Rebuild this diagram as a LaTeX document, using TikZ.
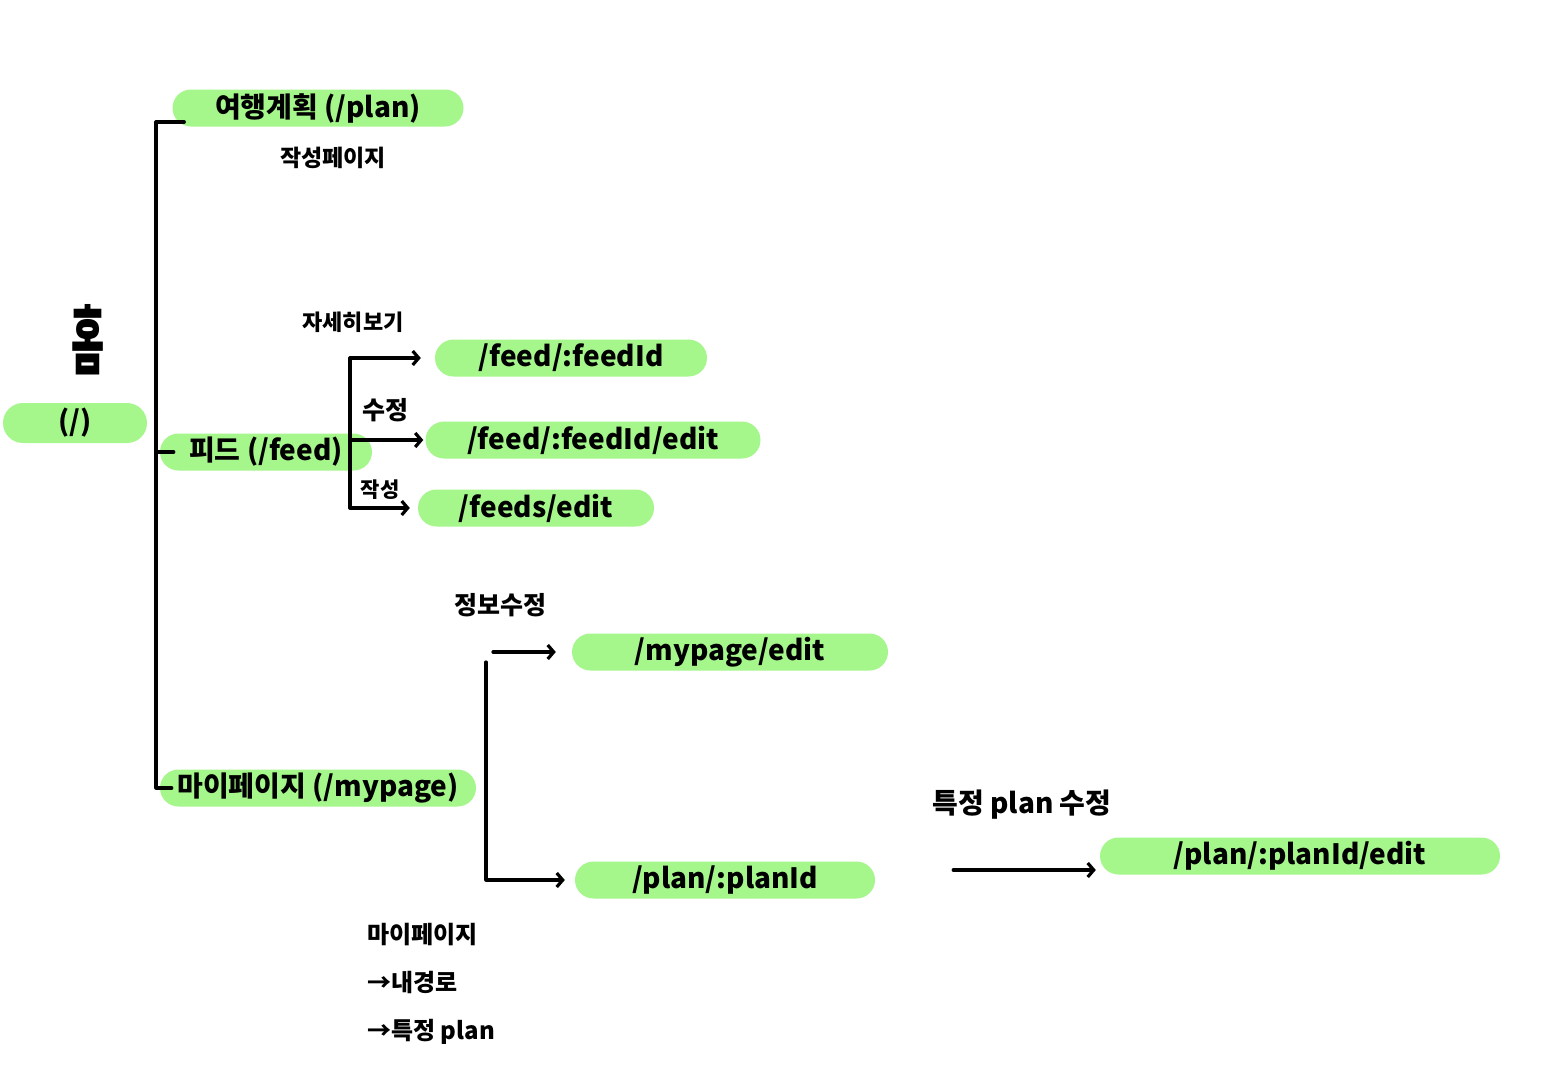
\documentclass[tikz,border=0pt]{standalone}
\usepackage{fontspec}
\setmainfont{Noto Sans CJK KR}
\usetikzlibrary{positioning, arrows.meta, shapes.misc}
\definecolor{Verde}{RGB}{165,247,140}

\begin{document}
\begin{tikzpicture}[x=1pt, y=-1pt,
  route/.style={
    rounded rectangle, fill=Verde,
    minimum width=#1, minimum height=37pt,
    inner sep=0pt, font=\fontsize{28}{30}\selectfont\bfseries
  },
  tag/.style={
    font=\fontsize{23}{26}\selectfont\bfseries, inner sep=1pt
  },
  branch/.style={
    line width=3.2pt, line cap=round, line join=round
  },
  linkarr/.style={
    branch, -{Straight Barb[length=6pt, width=14pt]}, shorten >=8pt
  }
]
\fill[white] (0,0) rectangle (1546,1090);
\useasboundingbox (0,0) rectangle (1546,1090);

\node[route=144pt, minimum height=40pt] (home) at (75,423) {(/)};
\node[font=\fontsize{36}{36}\selectfont\bfseries] (homelbl) at (88,340) {\scalebox{1}[2.1]{홈}};

\node[route=291pt] (plan)   at (318,108) {여행계획 (/plan)};
\node[tag]         (planlbl) at (333,158) {작성페이지};

\node[route=212pt] (feed)     at (266,452) {피드 (/feed)};
\node[route=272pt] (feedid)   at (571,358) {/feed/:feedId};
\node[route=335pt] (feededit) at (593,440) {/feed/:feedId/edit};
\node[route=236pt] (feedsnew) at (536,508) {/feeds/edit};
\node[tag, font=\fontsize{22}{24}\selectfont\bfseries] (viewlbl) at (353,322) {자세히보기};
\node[tag, font=\fontsize{25}{27}\selectfont\bfseries] (editlbl) at (385,410) {수정};
\node[tag, font=\fontsize{21}{23}\selectfont\bfseries] (newlbl)  at (380,490) {작성};

\node[route=316pt] (mypage)     at (318,788) {마이페이지 (/mypage)};
\node[route=316pt] (mypageedit) at (730,652) {/mypage/edit};
\node[route=300pt] (planid)     at (725,880) {/plan/:planId};
\node[route=400pt] (planedit)   at (1300,856) {/plan/:planId/edit};
\node[tag, font=\fontsize{25}{27}\selectfont\bfseries] (infolbl) at (500,605) {정보수정};
\node[tag, font=\fontsize{28}{30}\selectfont\bfseries] (planlbl2) at (1022,805) {특정 plan 수정};

\node[tag, align=left, anchor=north west, font=\fontsize{24}{48}\selectfont\bfseries]
  (note) at (366,922) {마이페이지\\→내경로\\→특정 plan};

% main tree
\coordinate (trunk) at (156,0);
\draw[branch] ([yshift=-14pt, xshift=12pt]plan.west) -- ([yshift=-14pt]plan.west -| trunk)
  -- (mypage.west -| trunk) -- ([xshift=12pt]mypage.west);
\draw[branch] (feed.west -| trunk) -- ([xshift=14pt]feed.west);

% feed
\coordinate (fb) at (350,0);
\draw[branch] (feedid.west -| fb) -- (feedsnew.west -| fb);
\draw[linkarr, shorten >=14pt] (feedid.west -| fb) -- (feedid.west);
\draw[linkarr, shorten >=2pt]  (feededit.west -| fb) -- (feededit.west);
\draw[linkarr] (feedsnew.west -| fb) -- (feedsnew.west);

% mypage
\coordinate (mb) at (486,662);
\draw[linkarr, shorten >=10pt] (mb) |- (planid.west);
\draw[linkarr, shorten >=16pt] ([xshift=7pt]mypageedit.west -| mb) -- (mypageedit.west);
\draw[linkarr, shorten >=4pt] ([xshift=78pt, yshift=10pt]planid.east) -- ([yshift=-14pt]planedit.west);
\end{tikzpicture}
\end{document}
